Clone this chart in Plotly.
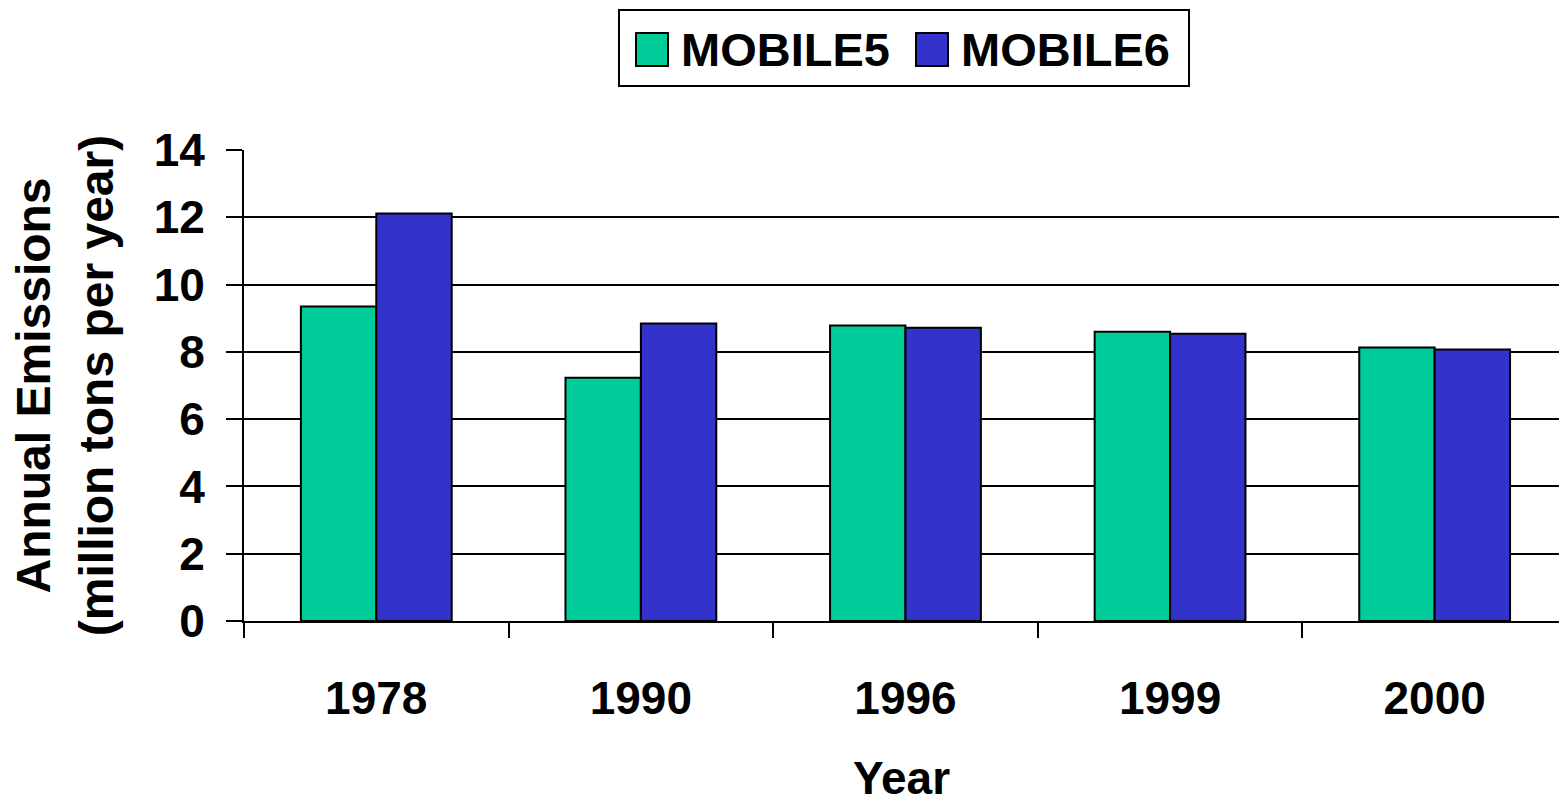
import plotly.graph_objects as go

years = ["1978", "1990", "1996", "1999", "2000"]
series_names = ["MOBILE5", "MOBILE6"]
mobile5 = [9.35, 7.23, 8.78, 8.60, 8.13]
mobile6 = [12.11, 8.84, 8.72, 8.54, 8.07]
y_ticks = [0, 2, 4, 6, 8, 10, 12, 14]

GREEN = "#00CC99"
BLUE = "#3333CC"
FONT = "Arial, 'Liberation Sans', sans-serif"

W, H = 1559, 804
ML, MR, MT, MB = 244, 0, 150, 183
PW = W - ML - MR
PH = H - MT - MB


def px(x):
    return (x - ML) / PW


def py(y):
    return (H - MB - y) / PH


fig = go.Figure()
for name, vals, col in [(series_names[0], mobile5, GREEN), (series_names[1], mobile6, BLUE)]:
    fig.add_trace(go.Bar(
        x=years, y=vals, name=name,
        marker=dict(color=col, line=dict(color="black", width=2)),
        showlegend=False,
    ))

# manual legend
shapes = [dict(type="rect", xref="paper", yref="paper",
               x0=px(619), x1=px(1189), y0=py(86), y1=py(10),
               line=dict(color="black", width=2), fillcolor="white")]
annotations = []
for (sx, tx), name, col in zip([(636, 679), (916, 959)], series_names, [GREEN, BLUE]):
    shapes.append(dict(type="rect", xref="paper", yref="paper",
                       x0=px(sx), x1=px(sx + 32), y0=py(66), y1=py(33),
                       line=dict(color="black", width=2), fillcolor=col))
    annotations.append(dict(text=name, xref="paper", yref="paper",
                            x=px(tx), y=py(49.5), xanchor="left", yanchor="middle",
                            showarrow=False,
                            font=dict(family=FONT, size=47, color="black", weight="bold")))

fig.update_layout(
    width=W, height=H,
    margin=dict(l=ML, r=MR, t=MT, b=MB),
    plot_bgcolor="white", paper_bgcolor="white",
    bargap=0.43, bargroupgap=0,
    barmode="group",
    font=dict(family=FONT, size=46, color="black", weight="bold"),
    shapes=shapes, annotations=annotations,
    xaxis=dict(
        range=[-0.5, 4.47],
        showline=True, linecolor="black", linewidth=2,
        ticks="outside", ticklen=15, tickwidth=2, tickcolor="black",
        tickson="boundaries", showgrid=False,
        ticklabelstandoff=36,
        title=dict(text="Year", standoff=49,
                   font=dict(family=FONT, size=46, color="black", weight="bold")),
        tickfont=dict(family=FONT, size=46, color="black", weight="bold"),
    ),
    yaxis=dict(
        range=[0, 14], tickvals=y_ticks,
        showline=True, linecolor="black", linewidth=2,
        ticks="outside", ticklen=16, tickwidth=2, tickcolor="black",
        showgrid=True, gridcolor="black", gridwidth=2,
        zeroline=False,
        ticklabelstandoff=12,
        title=dict(text="Annual Emissions<br>(million tons per year)", standoff=25,
                   font=dict(family=FONT, size=48, color="black", weight="bold")),
        tickfont=dict(family=FONT, size=46, color="black", weight="bold"),
    ),
)

fig.write_html("out.html", config={"displayModeBar": False},
               post_script="document.body.style.margin='0';")
